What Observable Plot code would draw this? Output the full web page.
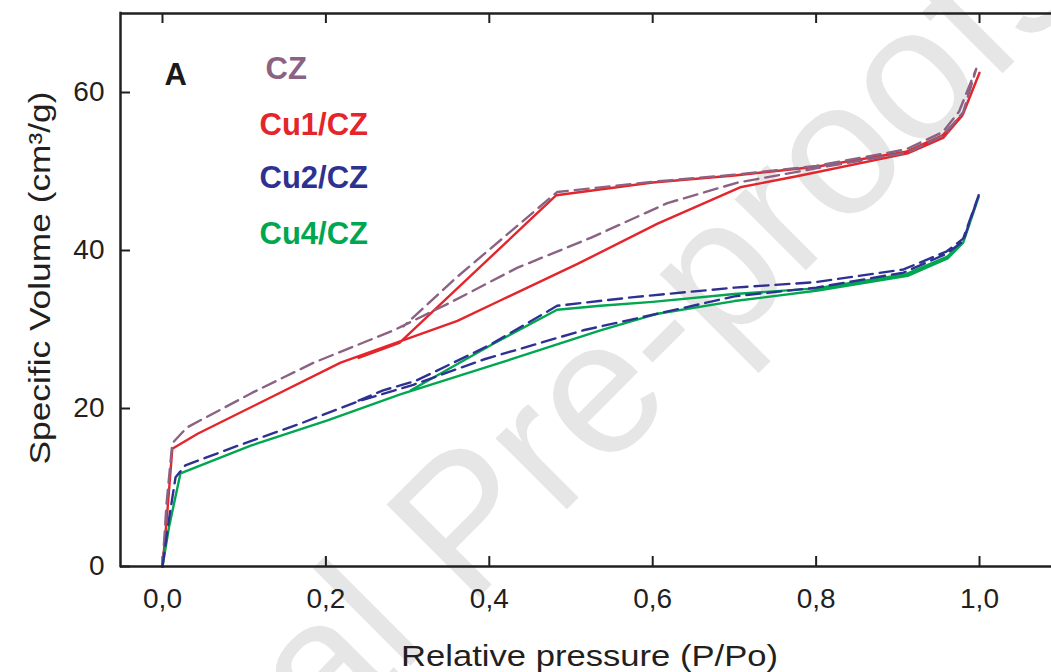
<!DOCTYPE html>
<html><head><meta charset="utf-8">
<script src="https://cdn.jsdelivr.net/npm/d3@7"></script>
<script src="https://cdn.jsdelivr.net/npm/@observablehq/plot@0.6"></script>
<style>
body{margin:0;background:#fff;}
#chart{position:relative;width:1051px;height:672px;overflow:hidden;}
</style>
</head><body><div id="chart"></div>
<script>
// ---- data ----
const seriesNames = ["CZ", "Cu1/CZ", "Cu2/CZ", "Cu4/CZ"];
const seriesColors = ["#8b6283", "#e4252b", "#2e3192", "#00a650"];

// CZ (adsorption then desorption)
const czP = [0, 0.005, 0.012, 0.03, 0.11, 0.185, 0.283, 0.352, 0.434, 0.524, 0.618, 0.704, 0.80, 0.912, 0.956, 0.98, 0.996, 0.975, 0.955, 0.91, 0.80, 0.70, 0.60, 0.483, 0.36, 0.295];
const czV = [0, 8, 15.6, 17.6, 22.0, 25.8, 29.9, 33.4, 37.8, 41.6, 46.0, 48.6, 50.4, 52.4, 54.6, 57.5, 63.0, 57.6, 55.0, 52.8, 50.7, 49.6, 48.7, 47.4, 36.6, 30.4];
// Cu1/CZ
const cu1P = [0, 0.006, 0.012, 0.043, 0.218, 0.283, 0.361, 0.414, 0.508, 0.606, 0.707, 0.781, 0.912, 0.956, 0.979, 1.0, 0.98, 0.955, 0.91, 0.80, 0.70, 0.60, 0.482, 0.29, 0.24];
const cu1V = [0, 7, 14.9, 16.8, 25.8, 28.2, 31.1, 33.7, 38.3, 43.4, 48.0, 49.5, 52.3, 54.3, 57.1, 62.5, 57.3, 54.6, 52.5, 50.6, 49.5, 48.6, 47.0, 28.3, 26.4];
// Cu2/CZ
const cu2P = [0, 0.008, 0.016, 0.028, 0.095, 0.169, 0.242, 0.307, 0.393, 0.515, 0.606, 0.70, 0.80, 0.907, 0.96, 0.98, 0.999, 0.98, 0.96, 0.907, 0.80, 0.70, 0.577, 0.483, 0.40, 0.31, 0.27, 0.24];
const cu2V = [0, 6, 11.3, 12.8, 15.4, 18.1, 21.0, 23.0, 26.2, 29.9, 32.0, 34.2, 35.3, 37.2, 39.6, 41.2, 47.0, 41.5, 39.9, 37.6, 36.0, 35.3, 34.1, 33.0, 28.0, 23.5, 22.3, 21.0];
// Cu4/CZ
const cu4P = [0, 0.008, 0.022, 0.108, 0.202, 0.291, 0.414, 0.536, 0.606, 0.70, 0.80, 0.912, 0.961, 0.98, 0.999, 0.98, 0.96, 0.91, 0.80, 0.70, 0.60, 0.536, 0.483, 0.405, 0.304];
const cu4V = [0, 5, 11.8, 15.3, 18.5, 21.8, 25.8, 29.9, 32.0, 33.6, 34.9, 36.8, 39.0, 41.0, 46.8, 41.0, 39.2, 37.0, 35.2, 34.5, 33.5, 33.0, 32.5, 28.2, 22.3];

const xTicks = [0, 0.2, 0.4, 0.6, 0.8, 1.0];
const yTicks = [0, 20, 40, 60];
const xDomain = [-0.0514, 1.0881];
const yDomain = [0, 70];

// ---- build tables ----
const toRows = (P, V, name) => P.map((p, i) => ({p, v: V[i], name}));
const rowsCZ = toRows(czP, czV, seriesNames[0]);
const rowsCu1 = toRows(cu1P, cu1V, seriesNames[1]);
const rowsCu2 = toRows(cu2P, cu2V, seriesNames[2]);
const rowsCu4 = toRows(cu4P, cu4V, seriesNames[3]);

const W = 1051, H = 672;
const mL = 120, mR = 0, mT = 13, mB = 106;
const axisColor = "#231f20";
const tickPx = 10;
const tickLenY = tickPx * (yDomain[1] - yDomain[0]) / (H - mT - mB);
const tickLenX = tickPx * (xDomain[1] - xDomain[0]) / (W - mL - mR);
const fmt = d => d3.format(".1f")(d).replace(".", ",");
const lw = 2.4;
const dash = "14,7";

const legendDy = [65, 121, 174, 230];
const legendDx = [145, 139, 139, 139];

const plot = Plot.plot({
  width: W, height: H,
  marginLeft: mL, marginRight: mR, marginTop: mT, marginBottom: mB,
  style: {fontFamily: "'Liberation Sans', Arial, sans-serif", color: axisColor, background: "white", overflow: "visible"},
  x: {domain: xDomain},
  y: {domain: yDomain},
  marks: [
    // tick labels
    Plot.axisX({ticks: xTicks, tickSize: 0, tickPadding: 22, tickFormat: fmt, fontSize: 28, label: null}),
    Plot.axisY({ticks: yTicks, tickSize: 0, tickPadding: 16, tickFormat: d => String(d), fontSize: 28, label: null}),
    // inward ticks
    Plot.ruleX(xTicks, {x: d => d, y1: yDomain[0], y2: yDomain[0] + tickLenY, stroke: axisColor, strokeWidth: 2}),
    Plot.ruleX(xTicks, {x: d => d, y1: yDomain[1], y2: yDomain[1] - tickLenY, stroke: axisColor, strokeWidth: 2}),
    Plot.ruleY(yTicks, {y: d => d, x1: xDomain[0], x2: xDomain[0] + tickLenX, stroke: axisColor, strokeWidth: 2}),
    // curves
    Plot.line(rowsCu1, {x: "p", y: "v", stroke: seriesColors[1], strokeWidth: lw, curve: "linear"}),
    Plot.line(rowsCu4, {x: "p", y: "v", stroke: seriesColors[3], strokeWidth: lw, curve: "linear"}),
    Plot.line(rowsCZ, {x: "p", y: "v", stroke: seriesColors[0], strokeWidth: lw, strokeDasharray: dash, curve: "linear"}),
    Plot.line(rowsCu2, {x: "p", y: "v", stroke: seriesColors[2], strokeWidth: lw, strokeDasharray: dash, curve: "linear"}),
    // frame (left, bottom, top)
    Plot.ruleY(yDomain, {stroke: axisColor, strokeWidth: 2.5}),
    Plot.ruleX([xDomain[0]], {stroke: axisColor, strokeWidth: 2.5, strokeLinecap: "square"}),
    // panel letter
    Plot.text(["A"], {frameAnchor: "top-left", dx: 44, dy: 71, text: d => d, lineAnchor: "bottom", textAnchor: "start", fontSize: 31, fontWeight: "bold", fill: "#1a1a1a"}),
    // legend
    ...seriesNames.map((n, i) => Plot.text([n], {frameAnchor: "top-left", dx: legendDx[i], dy: legendDy[i], text: d => d, lineAnchor: "bottom", textAnchor: "start", fontSize: 31, fontWeight: "bold", fill: seriesColors[i]}))
  ]
});

document.getElementById("chart").appendChild(plot);

// watermark behind everything
const svg = d3.select(plot);
const wm = svg.insert("g", ":first-child")
  .attr("font-family", "'Liberation Sans', Arial, sans-serif")
  .attr("font-size", 190).attr("fill", "#e6e6e6");
wm.append("text").attr("transform", "translate(468,608) rotate(-45)").attr("text-anchor", "start").text("Pre-proofs");
wm.append("text").attr("transform", "translate(431,645) rotate(-45)").attr("text-anchor", "end").text("Journal");

// axis titles
const titles = svg.append("g").attr("font-family", "'Liberation Sans', Arial, sans-serif").attr("fill", axisColor).attr("font-size", 30);
titles.append("text").attr("x", 589.5).attr("y", 666).attr("text-anchor", "middle")
  .attr("textLength", 377).attr("lengthAdjust", "spacingAndGlyphs")
  .text("Relative pressure (P/Po)");
titles.append("text").attr("transform", "translate(50,278) rotate(-90)").attr("text-anchor", "middle")
  .attr("textLength", 373).attr("lengthAdjust", "spacingAndGlyphs")
  .text("Specific Volume (cm³/g)");
</script>
</body></html>
